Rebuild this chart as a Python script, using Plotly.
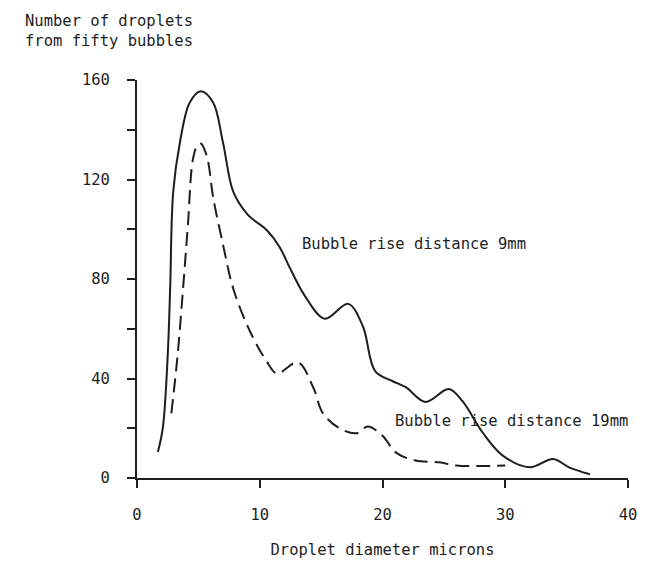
import plotly.graph_objects as go

# Droplet diameter (microns) and counts
x_9mm = [1.7, 2.1, 2.5, 2.7, 2.95, 3.5, 4.3, 5.2, 6.2, 7.0, 7.85, 9.0, 10.6, 11.6, 12.5,
         13.7, 15.3, 17.2, 18.4, 19.4, 20.8, 21.9, 23.5, 25.4, 26.5, 28.2, 29.8, 32.0,
         33.9, 35.2, 36.9]
y_9mm = [10.5, 20, 49, 76, 115, 135, 151, 155.5, 151, 135, 115, 106, 99.5, 93, 84,
         73, 64, 70, 61, 43, 39, 36.5, 30.6, 35.8, 31, 18, 9, 4.3, 7.6, 4.3, 1.5]

x_19mm = [2.8, 3.3, 3.75, 4.15, 4.55, 4.9, 5.2, 5.5, 5.8, 6.2, 7.0, 7.85, 9.2, 10.55,
          11.4, 13.1, 14.35, 15.15, 16.5, 17.9, 18.8, 20.0, 21.1, 22.7, 24.6, 26.0, 27.9, 30.0]
y_19mm = [26, 49, 76, 102, 128, 133.5, 134.5, 132, 127, 113, 94, 76, 59, 47,
          42, 46.5, 36.5, 26, 20, 18, 20.7, 17, 10.2, 7, 6.3, 5, 4.8, 5]

x_ticks = [0, 10, 20, 30, 40]
y_ticks = [0, 40, 80, 120, 160]

label_9mm = "Bubble rise distance 9mm"
label_19mm = "Bubble rise distance 19mm"
y_title = "Number of droplets<br>from fifty bubbles"
x_title = "Droplet diameter microns"

FONT = "DejaVu Sans Mono"
FS = 15.5
INK = "#1e1e1e"

fig = go.Figure()
fig.add_trace(go.Scatter(x=x_9mm, y=y_9mm, mode="lines",
                         line=dict(color=INK, width=2, shape="spline", smoothing=1.0),
                         showlegend=False, hoverinfo="skip"))
fig.add_trace(go.Scatter(x=x_19mm, y=y_19mm, mode="lines",
                         line=dict(color=INK, width=2, shape="spline", smoothing=1.0,
                                   dash="14px,7px"),
                         showlegend=False, hoverinfo="skip"))

fig.add_annotation(x=13.3, y=94, text=label_9mm, showarrow=False, xanchor="left",
                   yanchor="middle", font=dict(family=FONT, size=FS, color=INK))
fig.add_annotation(x=20.85, y=23, text=label_19mm, showarrow=False, xanchor="left",
                   yanchor="middle", font=dict(family=FONT, size=FS, color=INK))
fig.add_annotation(xref="paper", yref="paper", x=-0.232, y=1.176, text=y_title,
                   showarrow=False, xanchor="left", yanchor="top", align="left",
                   font=dict(family=FONT, size=FS, color=INK))

fig.update_layout(
    width=645, height=560,
    margin=dict(l=129, r=25, t=72, b=83),
    paper_bgcolor="white", plot_bgcolor="white",
    font=dict(family=FONT, size=FS, color=INK),
    xaxis=dict(range=[0, 40], tickvals=x_ticks, ticks="outside", ticklen=8,
               tickwidth=2, tickcolor=INK, showline=True, linewidth=2, linecolor=INK,
               showgrid=False, zeroline=False, ticklabelstandoff=13,
               title=dict(text=x_title, standoff=22,
                          font=dict(family=FONT, size=FS, color=INK))),
    yaxis=dict(range=[0, 160], tickvals=y_ticks, ticks="outside", ticklen=8,
               tickwidth=2, tickcolor=INK, showline=True, linewidth=2, linecolor=INK,
               showgrid=False, zeroline=False, ticklabelstandoff=14,
               minor=dict(dtick=20, ticks="outside", ticklen=8, tickwidth=2,
                          tickcolor=INK, showgrid=False)),
)

fig.write_html("out.html")
